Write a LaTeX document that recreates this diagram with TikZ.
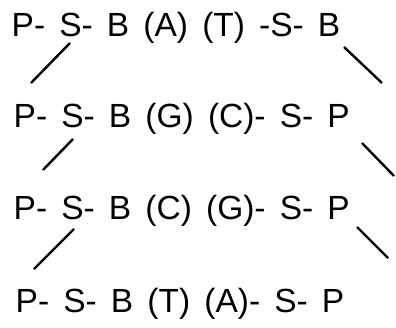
\documentclass[tikz,border=0pt]{standalone}
\usepackage{fontspec}
\setmainfont{Liberation Sans}[WordSpace={1.52}]
\begin{document}
\begin{tikzpicture}[x=1pt,y=1pt,
  row/.style={anchor=base west,inner sep=0pt,font=\fontsize{33.5}{36}\selectfont},
  link/.style={line width=2.4pt}]
\useasboundingbox (0,0) rectangle (396,327);
\node[row] (r1) at (11.5,290) {P- S- B (A) (T) -S- B};
\node[row] (r2) at (13.5,199) {P- S- B (G) (C)- S- P};
\node[row] (r3) at (13.5,108) {P- S- B (C) (G)- S- P};
\node[row] (r4) at (15.5,15) {P- S- B (T) (A)- S- P};
\coordinate (a1) at (70,284); \coordinate (a2) at (31,244);
\coordinate (b1) at (344,280); \coordinate (b2) at (382,244);
\coordinate (c1) at (73,188); \coordinate (c2) at (43,157);
\coordinate (d1) at (362,184); \coordinate (d2) at (394,151);
\coordinate (e1) at (74,98); \coordinate (e2) at (34,58);
\coordinate (f1) at (357,100); \coordinate (f2) at (388,69);
\draw[link] (a1) -- (a2);
\draw[link] (b1) -- (b2);
\draw[link] (c1) -- (c2);
\draw[link] (d1) -- (d2);
\draw[link] (e1) -- (e2);
\draw[link] (f1) -- (f2);
\end{tikzpicture}
\end{document}
